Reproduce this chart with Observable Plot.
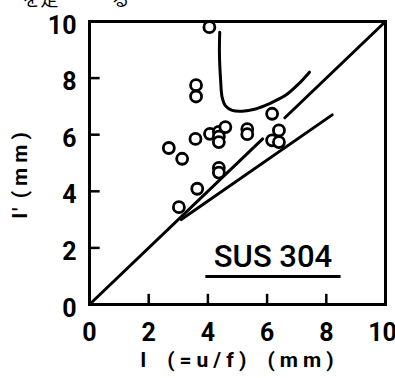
<!DOCTYPE html>
<html>
<head>
<meta charset="utf-8">
<script src="https://cdn.jsdelivr.net/npm/d3@7"></script>
<script src="https://cdn.jsdelivr.net/npm/@observablehq/plot@0.6"></script>
<style>
  html, body { margin: 0; padding: 0; background: #fff; }
  #chart { position: relative; width: 395px; height: 378px; overflow: hidden; }
</style>
</head>
<body>
<div id="chart"></div>
<script>
// ---- data ----
const xTicks = [0, 2, 4, 6, 8];
const xTicksEnd = [10];
const yTicks = [0, 2, 4, 6, 8, 10];
const innerTicks = [2, 4, 6, 8];

// measured points l (=u/f), l'
const pointX = [4.05, 3.6, 3.6, 2.68, 3.13, 3.58, 4.07, 4.37, 4.37, 4.59, 4.37,
                5.33, 5.33, 4.37, 4.37, 3.64, 3.02, 6.17, 6.4, 6.17, 6.4];
const pointY = [9.8, 7.75, 7.35, 5.53, 5.15, 5.85, 6.03, 6.1, 5.93, 6.27, 5.74,
                6.2, 6.02, 4.83, 4.66, 4.09, 3.44, 6.74, 6.15, 5.8, 5.74];

// U-shaped boundary curve
const curveX = [4.40, 4.39, 4.43, 4.48, 4.59, 4.82, 5.16, 5.61, 6.06, 6.62, 7.07, 7.43];
const curveY = [9.62, 8.87, 7.92, 7.33, 7.03, 6.86, 6.83, 6.91, 7.09, 7.39, 7.80, 8.21];

// l' = l line (interrupted near the points) and lower bound line
const diagonalX = [0, 5.85, NaN, 6.6, 10];
const diagonalY = [0, 5.85, NaN, 6.6, 10];
const lowerX = [3.1, 8.2];
const lowerY = [3.0, 6.7];

const material = "SUS 304";
const materialX = [6.2];
const materialY = [1.66];
const underlineX = [3.93, 8.5];
const underlineY = [0.99];

const xLabel = "l (=u/f) (mm)";
const yLabelParts = ["l′ ", "(mm)"];
const yLabel = yLabelParts.join("");
const topFragments = ["を定", "る"];

// ---- build ----
const points = pointX.map((x, i) => ({x, y: pointY[i]}));
const curve = curveX.map((x, i) => ({x, y: curveY[i]}));
const diagonal = diagonalX.map((x, i) => ({x, y: diagonalY[i]}));
const lower = lowerX.map((x, i) => ({x, y: lowerY[i]}));

const font = "Roboto, 'DejaVu Sans', sans-serif";
const tickFont = {fontSize: 25, fontWeight: "bold", fill: "#000"};

const chart = Plot.plot({
  width: 395,
  height: 378,
  marginLeft: 89,
  marginRight: 10,
  marginTop: 21,
  marginBottom: 74,
  style: {fontFamily: font, color: "#000", background: "#fff", overflow: "hidden"},
  x: {domain: [0, 10], axis: null},
  y: {domain: [0, 10], axis: null},
  marks: [
    Plot.axisX(xTicks, {label: null, tickSize: 0, tickPadding: 19, ...tickFont}),
    Plot.axisX(xTicksEnd, {label: null, tickSize: 0, tickPadding: 19, dx: -3, ...tickFont}),
    Plot.axisY(yTicks, {label: null, tickSize: 0, tickPadding: 13, dy: 4, ...tickFont}),
    Plot.ruleX(innerTicks, {y1: 0, y2: 0.36, stroke: "#000", strokeWidth: 2.5}),
    Plot.ruleY(innerTicks, {x1: 0, x2: 0.36, stroke: "#000", strokeWidth: 2.5}),
    Plot.line(diagonal, {x: "x", y: "y", stroke: "#000", strokeWidth: 3}),
    Plot.line(lower, {x: "x", y: "y", stroke: "#000", strokeWidth: 3}),
    Plot.line(curve, {x: "x", y: "y", stroke: "#000", strokeWidth: 3, curve: "catmull-rom"}),
    Plot.dot(points, {x: "x", y: "y", r: 5.5, fill: "#fff", stroke: "#000", strokeWidth: 2.8}),
    Plot.text([material], {x: () => materialX[0], y: () => materialY[0], text: d => d,
      fontSize: 31, fontWeight: 500, fill: "#000"}),
    Plot.ruleY(underlineY, {x1: underlineX[0], x2: underlineX[1], stroke: "#000", strokeWidth: 3}),
    Plot.text([xLabel], {frameAnchor: "bottom", dy: 62, dx: 2, text: d => d, fontSize: 21,
      fontWeight: "bold", fill: "#000"}),
    Plot.text([yLabel], {frameAnchor: "bottom-left", dx: -63, dy: -86, rotate: -90, text: d => d,
      textAnchor: "start", fontSize: 21, fontWeight: "bold", fill: "#000"}),
    Plot.frame({stroke: "#000", strokeWidth: 3}),
    // clipped caption fragment from the text above the figure
    Plot.text([topFragments[0]], {frameAnchor: "top-left", dx: -67, dy: -16, text: d => d, fontSize: 18,
      fontFamily: "'Noto Sans CJK JP'", fill: "#000", textAnchor: "start", lineAnchor: "bottom"}),
    Plot.text([topFragments[1]], {frameAnchor: "top-left", dx: 22, dy: -16, text: d => d, fontSize: 18,
      fontFamily: "'Noto Sans CJK JP'", fill: "#000", textAnchor: "start", lineAnchor: "bottom"})
  ]
});
const svgTexts = d3.select(chart).selectAll("text");
svgTexts.filter(function () { return this.textContent === xLabel; })
  .attr("letter-spacing", "5px")
  .style("word-spacing", "6px");
svgTexts.filter(function () { return this.textContent === yLabel; })
  .each(function () {
    const t = d3.select(this);
    t.text(null);
    t.append("tspan").attr("letter-spacing", "2px").text(yLabelParts[0]);
    t.append("tspan").attr("letter-spacing", "5px").text(yLabelParts[1]);
  });
document.getElementById("chart").append(chart);
</script>
</body>
</html>
